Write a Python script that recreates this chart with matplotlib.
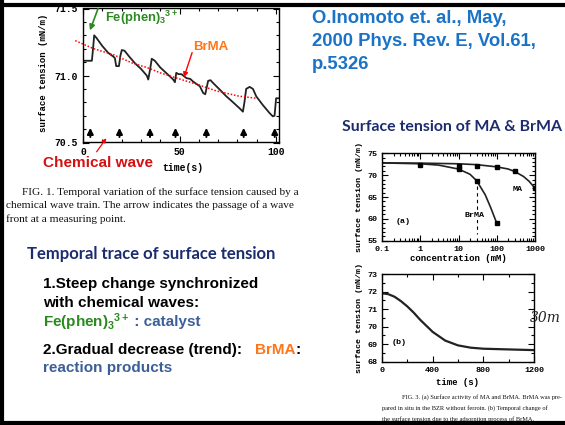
import matplotlib
matplotlib.use("Agg")
import matplotlib.pyplot as plt
from matplotlib.ticker import MultipleLocator, LogLocator, NullFormatter, FixedLocator

plt.rcParams["mathtext.fontset"] = "custom"
plt.rcParams["mathtext.rm"] = "Liberation Sans:bold"
plt.rcParams["mathtext.it"] = "Liberation Sans:bold"
plt.rcParams["mathtext.bf"] = "Liberation Sans:bold"

# --- Fig.1 : surface tension trace (time s, mN/m) ---
t_trace = [0.5, 4.6, 5.2, 5.8, 7, 10, 13, 15.8, 16.5, 17.2, 18.6, 19.4, 20.1, 21.5, 24, 27,
           30, 33, 33.8, 34.8, 35.6, 37.2, 40, 43, 46.7, 47.6, 48.3, 49.5, 51, 53.6, 55.5,
           57, 60.5, 62.2, 63.3, 64.8, 66, 68, 70.8, 74.2, 77.7, 81.1, 82.8, 83.6, 84.5,
           86.3, 88, 89.7, 93.1, 96.6, 98.3, 99.2, 100, 101.4]
v_trace = [71.11, 71.11, 71.2, 71.30, 71.28, 71.22, 71.17, 71.14, 71.13, 71.07, 71.07,
           71.15, 71.19, 71.185, 71.14, 71.09, 71.05, 71.0, 70.97, 71.05, 71.125, 71.11,
           71.06, 71.02, 70.97, 70.95, 71.02, 71.01, 71.01, 70.98, 70.975, 70.955, 70.92,
           70.87, 70.86, 70.96, 70.965, 70.935, 70.895, 70.845, 70.8, 70.755, 70.73, 70.8,
           70.9, 70.915, 70.9, 70.845, 70.78, 70.72, 70.695, 70.7, 70.83, 70.83]
t_trend = [-4, 5.5, 15.8, 26, 33, 40, 52, 60, 69, 81, 90]
v_trend = [71.26, 71.2, 71.155, 71.09, 71.06, 71.02, 70.965, 70.93, 70.885, 70.845, 70.83]
t_waves = [3.8, 18.9, 34.7, 47.9, 63.9, 83.2, 99.3]

# --- Fig.3(a) : surface activity (concentration mM) ---
c_ma_pts = [1, 10, 30, 100, 300, 1000]
g_ma_pts = [72.4, 72.2, 72.2, 71.8, 71.0, 67.0]
c_br_pts = [10, 30, 100]
g_br_pts = [71.4, 68.6, 59.0]
c_ma_fit = [0.1, 1, 10, 30, 100, 200, 300, 500, 700, 1000]
g_ma_fit = [72.8, 72.75, 72.6, 72.4, 71.9, 71.4, 70.8, 69.7, 68.6, 67.0]
c_br_fit = [0.1, 1, 3, 10, 20, 30, 50, 70, 100]
g_br_fit = [72.8, 72.6, 72.3, 71.4, 70.2, 68.7, 65.5, 62.5, 59.0]

# --- Fig.3(b) : adsorption of BrMA (time s) ---
t_ads = [0, 50, 100, 150, 200, 250, 300, 350, 400, 500, 600, 700, 800, 1000, 1200]
g_ads = [71.9, 71.85, 71.7, 71.45, 71.15, 70.8, 70.4, 70.05, 69.7, 69.2, 68.93, 68.8, 68.74, 68.7, 68.66]

W, H = 565, 425
fig = plt.figure(figsize=(W / 100, H / 100), dpi=100)
fig.patch.set_facecolor("white")


def box(l, t, r, b):
    return [l / W, 1 - b / H, (r - l) / W, (b - t) / H]


mono = "Liberation Mono"
serif = "Liberation Serif"
sans = "Liberation Sans"
green = "#2a8a1e"
orange = "#ff7518"
navy = "#1c2d6e"
steel = "#3b5f97"
blue = "#1a73c6"


def scan_style(ax, size):
    ax.tick_params(which="both", direction="in", top=True, right=True,
                   labelsize=size, width=0.8)
    ax.tick_params(which="major", length=4)
    ax.tick_params(which="minor", length=2)
    for lab in ax.get_xticklabels() + ax.get_yticklabels():
        lab.set_family(mono)
        lab.set_weight("bold")
    for s in ax.spines.values():
        s.set_linewidth(1.0)


# Fig. 1
ax1 = fig.add_axes(box(83, 8.5, 279, 142.5))
ax1.plot(t_trace, v_trace, color="#222222", lw=1.3)
ax1.plot(t_trend, v_trend, color="red", lw=1.1, ls=(0, (1, 1.2)), clip_on=False, zorder=5)
for t in t_waves:
    ax1.annotate("", xy=(t, 70.63), xytext=(t, 70.52),
                 arrowprops=dict(arrowstyle="-|>", color="black", lw=1.4, mutation_scale=9))
ax1.set_xlim(0, 101.5)
ax1.set_ylim(70.5, 71.5)
ax1.xaxis.set_major_locator(FixedLocator([0, 50, 100]))
ax1.xaxis.set_minor_locator(MultipleLocator(10))
ax1.yaxis.set_major_locator(FixedLocator([70.5, 71.0, 71.5]))
ax1.yaxis.set_minor_locator(MultipleLocator(0.1))
ax1.set_yticklabels(["70.5", "71.0", "71.5"])
scan_style(ax1, 7)
ax1.set_xlabel("time(s)", family=mono, fontsize=7, weight="bold", labelpad=0)
ax1.xaxis.set_label_coords(0.51, -0.15)
ax1.set_ylabel("surface tension (mN/m)", family=mono, fontsize=6.5, weight="bold")
ax1.yaxis.set_label_coords(-0.18, 0.52)

# Fig. 3(a)
ax2 = fig.add_axes(box(382, 153.3, 535, 240.7))
ax2.plot(c_ma_fit, g_ma_fit, color="#222222", lw=1.2)
ax2.plot(c_br_fit, g_br_fit, color="#222222", lw=1.2)
ax2.plot(c_ma_pts, g_ma_pts, "s", color="black", ms=3)
ax2.plot(c_br_pts, g_br_pts, "s", color="black", ms=3)
ax2.plot([30, 30], [67.6, 56.5], color="black", lw=0.8, ls=(0, (3, 3)))
ax2.set_xscale("log")
ax2.set_xlim(0.1, 1000)
ax2.set_ylim(55, 75)
ax2.xaxis.set_major_locator(FixedLocator([0.1, 1, 10, 100, 1000]))
ax2.xaxis.set_minor_locator(LogLocator(base=10, subs=range(2, 10)))
ax2.xaxis.set_minor_formatter(NullFormatter())
ax2.set_xticklabels(["0.1", "1", "10", "100", "1000"])
ax2.yaxis.set_major_locator(MultipleLocator(5))
ax2.yaxis.set_minor_locator(MultipleLocator(1))
scan_style(ax2, 6)
ax2.text(0.35, 59.3, "(a)", family=mono, fontsize=6, weight="bold", ha="center", va="center")
ax2.text(360, 66.8, "MA", family=mono, fontsize=6, weight="bold", ha="center", va="center")
ax2.text(26, 60.8, "BrMA", family=mono, fontsize=6, weight="bold", ha="center", va="center",
         bbox=dict(facecolor="white", edgecolor="none", pad=0.5))
ax2.set_xlabel("concentration (mM)", family=mono, fontsize=6.5, weight="bold", labelpad=1)
ax2.set_ylabel("surface tension (mN/m)", family=mono, fontsize=6, weight="bold", labelpad=3)

# Fig. 3(b)
ax3 = fig.add_axes(box(382, 274, 534, 361.7))
ax3.plot(t_ads, g_ads, color="#222222", lw=1.6)
ax3.set_xlim(0, 1200)
ax3.set_ylim(68, 73)
ax3.xaxis.set_major_locator(MultipleLocator(400))
ax3.xaxis.set_minor_locator(MultipleLocator(200))
ax3.yaxis.set_major_locator(MultipleLocator(1))
ax3.yaxis.set_minor_locator(MultipleLocator(0.5))
scan_style(ax3, 6)
ax3.text(135, 69.1, "(b)", family=mono, fontsize=6, weight="bold", ha="center", va="center")
ax3.set_xlabel("time (s)", family=mono, fontsize=6.5, weight="bold", labelpad=3)
ax3.set_ylabel("surface tension (mN/m)", family=mono, fontsize=6, weight="bold", labelpad=3)

# overlay in slide pixel coordinates
ov = fig.add_axes([0, 0, 1, 1], zorder=10)
ov.set_xlim(0, W)
ov.set_ylim(H, 0)
ov.axis("off")
ov.patch.set_alpha(0)

ov.text(105, 18, r"Fe(phen)$_\mathrm{3}$$^\mathrm{3+}$", color=green, fontsize=9.3,
        family=sans, weight="bold", va="center")
ov.annotate("", xy=(89, 33), xytext=(99, 6),
            arrowprops=dict(arrowstyle="-|>", color=green, lw=1.2, mutation_scale=8))
ov.text(193, 47, "BrMA", color=orange, fontsize=9.5, family=sans,
        weight="bold", va="center")
ov.annotate("", xy=(183, 80), xytext=(193, 50),
            arrowprops=dict(arrowstyle="-|>", color="red", lw=1.0, mutation_scale=7))
ov.text(43, 163, "Chemical wave", color="#d41010", fontsize=11, family=sans,
        weight="bold", va="center")
ov.annotate("", xy=(108, 136), xytext=(95, 154),
            arrowprops=dict(arrowstyle="-|>", color="red", lw=0.9, mutation_scale=6))

cap1 = ["FIG. 1. Temporal variation of the surface tension caused by a",
        "chemical wave train. The arrow indicates the passage of a wave",
        "front at a measuring point."]
for i, line in enumerate(cap1):
    ov.text(22.5 if i == 0 else 6.5, 192 + 13.5 * i, line, family=serif, fontsize=8.1,
            va="center", color="#111111")

for i, line in enumerate(["O.Inomoto et. al., May,", "2000 Phys. Rev. E, Vol.61,", "p.5326"]):
    ov.text(312, 18 + 23 * i, line, color=blue, fontsize=13.3, family=sans,
            weight="bold", va="center")

ov.text(342, 127, "Surface tension of MA & BrMA", color=navy, fontsize=11.4,
        family="Lato", weight="bold", va="center")
ov.text(27, 254, "Temporal trace of surface tension", color=navy, fontsize=12,
        family="Lato", weight="bold", va="center")

ov.text(43, 284, "1.Steep change synchronized", color="black", fontsize=11,
        family=sans, weight="bold", va="center")
ov.text(43, 303, "with chemical waves:", color="black", fontsize=11,
        family=sans, weight="bold", va="center")
t_fe = ov.text(43, 322, r"Fe(phen)$_\mathrm{3}$$^\mathrm{3+}$", color=green, fontsize=11,
               family=sans, weight="bold", va="center")
ov.annotate(" : catalyst", xycoords=t_fe, xy=(1, 0.5), va="center", color=steel,
            fontsize=11, family=sans, weight="bold")
t_gr = ov.text(43, 350, "2.Gradual decrease (trend):   ", color="black", fontsize=11,
               family=sans, weight="bold", va="center")
t_br = ov.annotate("BrMA", xycoords=t_gr, xy=(1, 0.5), va="center", color=orange,
                   fontsize=11, family=sans, weight="bold")
ov.annotate(":", xycoords=t_br, xy=(1, 0.5), va="center", color="black",
            fontsize=11, family=sans, weight="bold")
ov.text(43, 368, "reaction products", color=steel, fontsize=11,
        family=sans, weight="bold", va="center")

ov.text(530, 318, "30m", color="#222222", fontsize=10, family="DejaVu Serif",
        style="italic", va="center")

cap3 = ["FIG. 3. (a) Surface activity of MA and BrMA. BrMA was pre-",
        "pared in situ in the BZR without ferroin. (b) Temporal change of",
        "the surface tension due to the adsorption process of BrMA."]
for i, line in enumerate(cap3):
    ov.text(401.5 if i == 0 else 381.5, 397 + 11 * i, line, family=serif, fontsize=4.6,
            va="center", color="#111111")

# slide frame
ov.plot([0, W], [5, 5], color="black", lw=3, solid_capstyle="butt")
ov.plot([2, 2], [0, H], color="black", lw=3, solid_capstyle="butt")
ov.plot([0, W], [423, 423], color="black", lw=3, solid_capstyle="butt")

fig.savefig("out.png", dpi=100, facecolor="white")
